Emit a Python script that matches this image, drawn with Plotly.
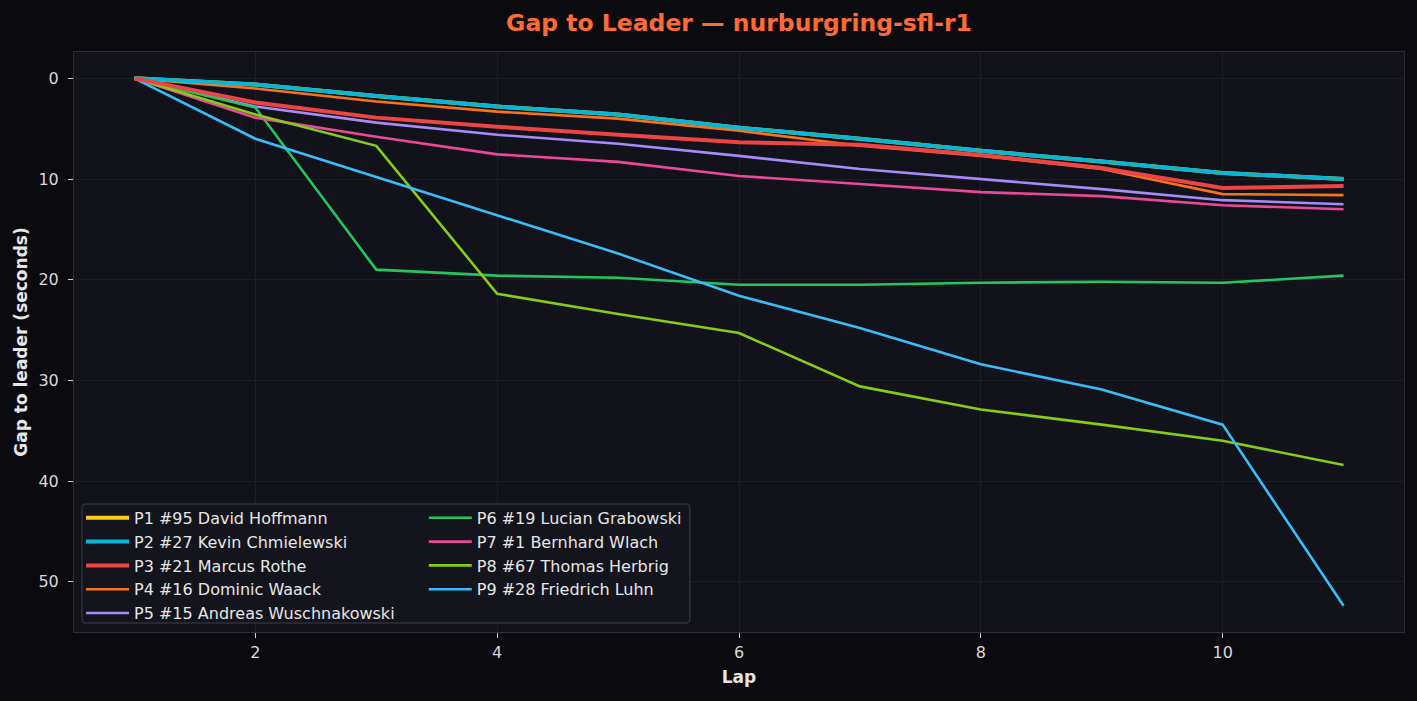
import plotly.graph_objects as go

laps = [1, 2, 3, 4, 5, 6, 7, 8, 9, 10, 11]

drivers = [
    "P1 #95 David Hoffmann",
    "P2 #27 Kevin Chmielewski",
    "P3 #21 Marcus Rothe",
    "P4 #16 Dominic Waack",
    "P5 #15 Andreas Wuschnakowski",
    "P6 #19 Lucian Grabowski",
    "P7 #1 Bernhard Wlach",
    "P8 #67 Thomas Herbrig",
    "P9 #28 Friedrich Luhn",
]

gap_p1 = [0, 0.6, 1.75, 2.8, 3.6, 4.9, 6.0, 7.2, 8.25, 9.4, 10.0]
gap_p2 = [0, 0.6, 1.75, 2.8, 3.6, 4.9, 6.0, 7.2, 8.25, 9.4, 10.0]
gap_p3 = [0, 2.4, 3.9, 4.8, 5.6, 6.35, 6.6, 7.6, 8.9, 10.9, 10.7]
gap_p4 = [0, 1.0, 2.3, 3.3, 4.0, 5.2, 6.7, 7.7, 9.0, 11.5, 11.6]
gap_p5 = [0, 2.8, 4.4, 5.6, 6.5, 7.7, 9.0, 10.0, 11.0, 12.1, 12.5]
gap_p6 = [0, 2.9, 19.0, 19.6, 19.8, 20.5, 20.5, 20.3, 20.2, 20.3, 19.6]
gap_p7 = [0, 3.9, 5.8, 7.55, 8.3, 9.7, 10.5, 11.3, 11.7, 12.6, 13.0]
gap_p8 = [0, 3.6, 6.7, 21.4, 23.4, 25.3, 30.6, 32.9, 34.4, 36.0, 38.4]
gap_p9 = [0, 6.0, 9.8, 13.6, 17.4, 21.6, 24.8, 28.4, 30.9, 34.4, 52.4]

gaps = [gap_p1, gap_p2, gap_p3, gap_p4, gap_p5, gap_p6, gap_p7, gap_p8, gap_p9]

colors = ["#facc15", "#06b6d4", "#ef4444", "#f97316", "#a78bfa",
          "#22c55e", "#ec4899", "#84cc16", "#38bdf8"]

FONT = "DejaVu Sans"

fig = go.Figure()

# podium lines are drawn last so they sit on top
draw_order = [3, 4, 5, 6, 7, 8, 0, 1, 2]
for i in draw_order:
    fig.add_trace(go.Scatter(
        x=laps,
        y=gaps[i],
        mode="lines",
        name=drivers[i],
        line=dict(color=colors[i], width=4 if i < 3 else 2.6),
        legend="legend" if i < 5 else "legend2",
        legendrank=i + 1,
    ))

legend_style = dict(
    bgcolor="rgba(0,0,0,0)",
    borderwidth=0,
    font=dict(family=FONT, size=16, color="#e6e6e6"),
    yanchor="top",
    xanchor="left",
    itemwidth=43,
)

# rounded legend frame in paper coordinates
bx0, bx1, by0, by1 = 0.006, 0.463, 0.0155, 0.2207
rx, ry = 0.003, 0.007
frame = (
    f"M {bx0 + rx},{by0} L {bx1 - rx},{by0} Q {bx1},{by0} {bx1},{by0 + ry} "
    f"L {bx1},{by1 - ry} Q {bx1},{by1} {bx1 - rx},{by1} "
    f"L {bx0 + rx},{by1} Q {bx0},{by1} {bx0},{by1 - ry} "
    f"L {bx0},{by0 + ry} Q {bx0},{by0} {bx0 + rx},{by0} Z"
)

fig.update_layout(
    width=1417,
    height=701,
    paper_bgcolor="#0b0b0f",
    plot_bgcolor="#12131a",
    margin=dict(l=74, r=13, t=52, b=69),
    font=dict(family=FONT, color="#d8d8d8"),
    title=dict(
        text="<b>Gap to Leader — nurburgring-sfl-r1</b>",
        font=dict(family=FONT, size=23.5, color="#ff6b35"),
        x=0.5, xref="paper", xanchor="center",
        y=0.967, yref="container", yanchor="middle",
    ),
    legend=dict(x=0.0053, y=0.226, **legend_style),
    legend2=dict(x=0.263, y=0.226, **legend_style),
    shapes=[dict(
        type="path", path=frame, xref="paper", yref="paper",
        fillcolor="#14151c", line=dict(color="#2e2f38", width=1.5),
        layer="above",
    )],
)

axis_style = dict(
    ticks="outside",
    ticklen=5,
    tickcolor="#cfcfcf",
    tickfont=dict(family=FONT, size=16, color="#d8d8d8"),
    showgrid=True,
    gridcolor="#1d1e26",
    zeroline=False,
    showline=True,
    mirror=True,
    linecolor="#2c2d36",
    linewidth=1,
)

fig.update_xaxes(
    title=dict(text="<b>Lap</b>", font=dict(family=FONT, size=17, color="#e6e6e6"), standoff=9),
    range=[0.5, 11.5],
    dtick=2,
    tick0=0,
    ticklabelstandoff=1,
    **axis_style,
)
fig.update_yaxes(
    title=dict(text="<b>Gap to leader (seconds)</b>", font=dict(family=FONT, size=17, color="#e6e6e6"), standoff=6),
    range=[55.0, -2.62],
    dtick=10,
    ticklabelstandoff=6,
    **axis_style,
)

fig.write_html(
    "out.html",
    config={"displayModeBar": False},
    post_script="document.body.style.margin='0';document.body.style.background='#0b0b0f';",
)
